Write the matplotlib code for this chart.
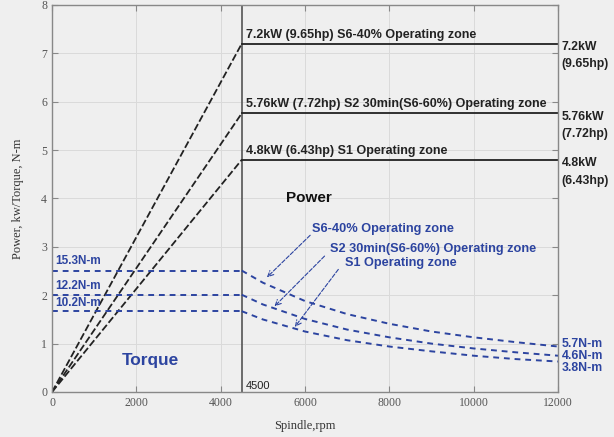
import matplotlib.pyplot as plt
import numpy as np

# power curves (kW): ramp to base speed, then constant
base_rpm = 4500
max_rpm = 12000
power_kw = [7.2, 5.76, 4.8]
power_hp = [9.65, 7.72, 6.43]
zone_names = ['S6-40% Operating zone', 'S2 30min(S6-60%) Operating zone', 'S1 Operating zone']

# torque curves (plotted on the same axis)
torque_labels_start = ['15.3N-m', '12.2N-m', '10.2N-m']
torque_labels_end = ['5.7N-m', '4.6N-m', '3.8N-m']
torque_rpm = [4500, 5000, 6000, 7000, 8000, 9000, 10000, 11000, 12000]
torque_s6 = [2.51, 2.26, 1.88, 1.61, 1.41, 1.25, 1.13, 1.03, 0.94]
torque_s2 = [2.01, 1.81, 1.51, 1.29, 1.13, 1.00, 0.90, 0.82, 0.75]
torque_s1 = [1.67, 1.50, 1.25, 1.07, 0.94, 0.84, 0.75, 0.68, 0.63]
torques = [torque_s6, torque_s2, torque_s1]

bg = '#efefef'
blue = '#2c44a0'
sans = 'Liberation Sans'
serif = 'Liberation Serif'

fig = plt.figure(figsize=(6.14, 4.37), dpi=100, facecolor=bg)
ax = fig.add_axes([0.0847, 0.103, 0.8241, 0.8856], facecolor=bg)

ax.set_xlim(0, max_rpm)
ax.set_ylim(0, 8)
ax.set_xticks(np.arange(0, 12001, 2000))
ax.set_yticks(np.arange(0, 9, 1))
ax.grid(True, color='#dadada', lw=0.7)
ax.set_axisbelow(True)
ax.tick_params(direction='in', top=True, right=True, length=4, color='#888888',
               labelsize=8.5, labelcolor='#555555')
for lab in ax.get_xticklabels() + ax.get_yticklabels():
    lab.set_family(serif)
for sp in ax.spines.values():
    sp.set_color('#888888')
    sp.set_linewidth(1.0)

ax.set_xlabel('Spindle,rpm', family=serif, fontsize=9, color='#333333', labelpad=8)
ax.set_ylabel('Power, kw/Torque, N-m', family=serif, fontsize=9, color='#333333', labelpad=12)

# base speed line
ax.axvline(base_rpm, color='#555555', lw=1.2)
ax.text(4600, 0.12, '4500', family=sans, fontsize=8, va='center', color='#222222')

# power
for p, hp, name in zip(power_kw, power_hp, zone_names):
    ax.plot([0, base_rpm], [0, p], color='#222222', lw=1.3, ls=(0, (4, 1.5)))
    ax.plot([base_rpm, max_rpm], [p, p], color='#222222', lw=1.3)
    ax.text(4600, p + 0.06, f'{p}kW ({hp}hp) {name}', family=sans, fontsize=9,
            fontweight='bold', va='bottom', color='#222222')
    ax.text(12080, p - 0.07, f'{p}kW', family=sans, fontsize=8.8, fontweight='bold',
            va='center', color='#222222', clip_on=False)
    ax.text(12080, p - 0.43, f'({hp}hp)', family=sans, fontsize=8.8, fontweight='bold',
            va='center', color='#222222', clip_on=False)

# torque
start_label_y = [2.7, 2.2, 1.83]
end_label_y = [0.99, 0.74, 0.49]
for t, ls, le, ys, ye in zip(torques, torque_labels_start, torque_labels_end,
                            start_label_y, end_label_y):
    ax.plot([0, base_rpm], [t[0], t[0]], color=blue, lw=1.4, ls=(0, (3, 2.5)))
    ax.plot(torque_rpm, t, color=blue, lw=1.4, ls=(0, (3, 2.5)))
    ax.text(80, ys, ls, family=sans, fontsize=8.5, fontweight='bold', va='center', color=blue)
    ax.text(12080, ye, le, family=sans, fontsize=8.8, fontweight='bold', va='center',
            color=blue, clip_on=False)

ax.text(5560, 4.0, 'Power', family=sans, fontsize=11, fontweight='bold', va='center',
        color='#111111')
ax.text(1660, 0.66, 'Torque', family=sans, fontsize=12.4, fontweight='bold', va='center',
        color=blue)

# zone annotations
ann_text_xy = [(6160, 3.37), (6590, 2.95), (6950, 2.66)]
ann_from = [(6170, 3.28), (6510, 2.85), (6830, 2.58)]
ann_to = [(5050, 2.33), (5230, 1.73), (5720, 1.30)]
for name, txy, a0, a1 in zip(zone_names, ann_text_xy, ann_from, ann_to):
    ax.text(txy[0], txy[1], name, family=sans, fontsize=9.2, fontweight='bold',
            va='center', color=blue)
    ax.annotate('', xy=a1, xytext=a0,
                arrowprops=dict(arrowstyle='->', color=blue, lw=0.8, ls='--'))

fig.savefig('out.png', dpi=100, facecolor=bg)
